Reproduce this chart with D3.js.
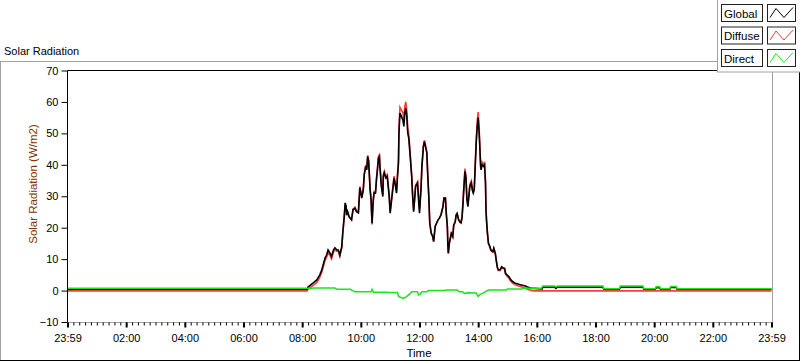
<!DOCTYPE html>
<html><head><meta charset="utf-8">
<script src="https://cdn.jsdelivr.net/npm/d3@7/dist/d3.min.js"></script>
<style>
body{margin:0;background:#fff}
svg{display:block}
text{font-family:"Liberation Sans",Arial,sans-serif;fill:#000}
</style>
</head><body>
<svg id="c" width="800" height="361"></svg>
<script>
// ---------- DATA ----------
const seriesNames = ["Global", "Diffuse", "Direct"];
const chartTitle = "Solar Radiation";
const yTitle = "Solar Radiation (W/m2)";
const xTitle = "Time";
const yTickValues = [-10, 0, 10, 20, 30, 40, 50, 60, 70];
const xTickLabels = ["23:59","02:00","04:00","06:00","08:00","10:00","12:00","14:00","16:00","18:00","20:00","22:00","23:59"];

const sampleTimes = [
"00:00","08:09","08:11","08:21","08:29","08:35","08:39","08:42","08:46","08:49",
"08:52","08:56","08:59","09:03","09:06","09:10","09:13","09:16","09:20","09:22",
"09:25","09:27","09:29","09:30","09:32","09:35","09:40","09:43","09:47","09:50",
"09:54","09:56","09:57","10:01","10:04","10:06","10:09","10:11","10:13","10:15",
"10:18","10:20","10:21","10:22","10:24","10:26","10:29","10:31","10:33","10:35",
"10:37","10:38","10:40","10:41","10:44","10:45","10:47","10:50","10:53","10:55",
"10:57","10:59","11:02","11:05","11:07","11:10","11:12","11:14","11:16","11:17",
"11:19","11:22","11:25","11:27","11:29","11:31","11:33","11:35","11:37","11:40",
"11:43","11:45","11:47","11:49","11:51","11:55","11:57","11:59","12:02","12:04",
"12:07","12:09","12:12","12:14","12:16","12:18","12:20","12:23","12:26","12:28",
"12:31","12:34","12:37","12:40","12:43","12:47","12:49","12:52","12:54","12:56",
"12:57","12:58","13:00","13:04","13:07","13:09","13:12","13:14","13:16","13:19",
"13:21","13:24","13:26","13:28","13:30","13:32","13:34","13:36","13:38","13:40",
"13:42","13:45","13:47","13:49","13:51","13:53","13:55","13:57","13:59","14:01",
"14:02","14:04","14:05","14:07","14:10","14:12","14:14","14:15","14:16","14:18",
"14:20","14:23","14:25","14:29","14:31","14:34","14:36","14:38","14:40","14:44",
"14:47","14:50","14:53","14:55","14:58","15:02","15:06","15:10","15:15","15:20",
"15:27","15:34","15:40","15:47","15:54","16:10","16:11","16:35","16:38","16:41",
"18:14","18:16","18:48","18:50","19:36","19:38","20:01","20:03","20:10","20:12",
"20:31","20:33","20:44","20:46","23:59"];

const globalValues = [
0.4,0.4,1.1,2.4,3.4,5.0,6.5,8.2,10.4,11.3,
12.9,11.9,10.8,12.9,13.6,12.9,12.9,11.3,14.0,18.3,
23.5,27.9,26.7,24.1,25.1,23.5,22.5,25.7,26.2,25.1,
24.7,29.9,32.7,29.4,32.0,36.8,39.5,38.4,42.6,41.0,
32.0,28.9,24.7,21.4,27.8,31.0,31.0,35.2,38.4,42.1,
42.6,39.5,35.2,33.1,29.9,36.3,37.4,35.8,36.3,33.1,
29.9,24.6,28.9,33.1,35.8,33.1,31.0,36.3,40.5,50.1,
56.5,55.4,54.3,52.2,56.5,58.0,55.4,50.1,48.5,42.6,
36.3,29.9,25.1,28.9,33.1,34.2,28.9,24.6,32.0,39.5,
45.8,47.4,45.3,43.7,36.3,29.9,21.4,18.2,17.2,15.6,
20.4,21.5,22.5,23.1,24.1,26.7,29.4,29.4,24.1,20.4,
14.5,11.9,15.1,18.2,17.2,20.9,21.9,24.1,24.6,22.5,
21.9,21.5,23.1,27.8,33.1,37.9,35.8,28.9,26.7,29.9,
33.1,34.2,32.0,31.0,32.0,39.5,46.9,52.2,55.0,50.1,
46.9,39.5,38.4,40.0,39.5,40.0,34.2,25.7,22.5,18.2,
15.1,14.0,12.9,12.4,13.5,11.9,9.7,7.6,6.6,6.6,
7.6,7.2,7.1,5.5,5.0,4.4,3.4,2.8,2.3,2.1,
1.8,1.5,1.1,0.7,0.7,0.5,1.1,1.1,0.7,1.1,
1.1,0.4,0.4,1.1,1.1,0.4,0.4,0.9,0.9,0.4,
0.4,1.0,1.0,0.4,0.4];

const diffuseValues = [
-0.1,-0.1,0.4,1.6,2.6,4.2,5.8,7.4,9.7,10.6,
12.1,11.2,10.1,12.2,13.0,12.5,12.5,10.9,13.6,17.9,
23.1,27.6,26.5,23.9,25.0,23.4,22.5,25.9,26.5,25.4,
25.0,30.3,33.1,29.8,32.4,37.2,39.9,38.8,43.0,41.4,
32.3,29.0,24.6,21.0,28.1,31.5,31.6,35.8,39.0,42.7,
43.2,40.1,35.8,33.7,30.5,36.9,38.0,36.4,36.9,33.7,
30.5,25.2,29.5,33.7,36.4,33.7,31.6,37.0,41.8,51.8,
58.3,57.4,56.6,54.4,58.6,60.0,57.1,51.6,49.9,43.6,
36.8,30.3,25.5,29.3,33.5,34.6,30.3,25.8,32.8,40.0,
46.2,47.8,45.7,44.1,36.6,30.1,21.5,18.2,17.2,15.6,
20.4,21.5,22.5,23.1,24.1,26.7,29.4,29.4,23.9,20.2,
14.3,11.7,14.9,18.0,17.0,20.7,21.7,23.9,24.4,22.6,
22.2,21.9,23.5,28.3,33.9,38.8,36.6,29.6,27.4,30.6,
33.8,34.9,32.7,31.7,32.8,40.4,47.9,53.6,56.8,51.4,
47.9,40.4,39.3,40.9,40.2,40.6,34.6,26.0,22.7,18.2,
14.9,13.8,12.7,12.2,13.3,11.7,9.5,7.4,6.4,6.4,
7.4,7.0,6.9,5.2,4.6,3.9,2.9,2.3,1.8,1.5,
1.2,0.8,0.4,0.0,-0.1,-0.1,-0.1,-0.1,-0.1,-0.1,
-0.1,-0.1,-0.1,-0.1,-0.1,-0.1,-0.1,-0.1,-0.1,-0.1,
-0.1,-0.1,-0.1,-0.1,-0.1];

const directTimes = [
"00:00","08:19","08:22","09:06","09:10","09:38","09:42","09:47","10:20","10:22",
"10:25","10:50","11:00","11:14","11:16","11:22","11:27","11:31","11:37","11:43",
"11:55","11:57","12:00","12:04","12:14","12:18","12:50","12:54","13:16","13:20",
"13:27","13:31","13:37","13:55","13:59","14:03","14:08","14:18","14:22","14:57",
"14:59","15:28","15:32","16:08","16:11","16:35","16:38","16:41","18:14","18:16",
"18:48","18:50","19:36","19:38","20:01","20:03","20:10","20:12","20:31","20:33",
"20:44","20:46","23:59"];
const directValues = [
0.7,0.7,0.8,0.8,0.4,0.4,0.0,-0.35,-0.35,0.4,
-0.55,-0.5,-0.6,-0.6,-1.9,-2.3,-2.4,-2.1,-1.4,-0.35,
-0.35,-1.4,-1.2,-0.4,-0.35,0.0,0.0,0.2,0.2,-0.35,
-0.35,-0.9,-0.7,-0.8,-1.9,-1.2,-0.9,0.0,0.2,0.2,
0.5,0.5,0.7,0.7,1.45,1.45,1.2,1.45,1.45,0.6,
0.6,1.45,1.45,0.6,0.6,1.2,1.2,0.6,0.6,1.3,
1.3,0.6,0.6];

// ---------- STYLE ----------
const colGlobal = "#000000", colDiffuse = "#ff3b3b", colDirect = "#19e619";
const P = {l: 67.5, r: 771.5, t: 70.5, b: 322.5};

const svg = d3.select("#c");
const toH = s => { const [h, m] = s.split(":").map(Number); return h + m / 60; };

const x = d3.scaleLinear().domain([-1/60, 24 - 1/60]).range([P.l, P.r]);
const y = d3.scaleLinear().domain([-10, 70]).range([322, 70.5]);

// outer panel frame
svg.append("line").attr("x1",0).attr("x2",718).attr("y1",61.5).attr("y2",61.5).attr("stroke","#a0a0a0");
svg.append("line").attr("x1",0.5).attr("x2",0.5).attr("y1",61).attr("y2",361).attr("stroke","#a0a0a0");
svg.append("line").attr("x1",0).attr("x2",800).attr("y1",360.5).attr("y2",360.5).attr("stroke","#000");
svg.append("line").attr("x1",799.5).attr("x2",799.5).attr("y1",72).attr("y2",361).attr("stroke","#000");

// title
svg.append("text").attr("x",4).attr("y",55).style("font-size","11px").text(chartTitle);

// plot area
svg.append("rect").attr("x",P.l).attr("y",P.t).attr("width",772.5-P.l).attr("height",P.b-P.t).attr("fill","#fff");
svg.append("defs").append("clipPath").attr("id","clip").append("rect")
  .attr("x",P.l+0.5).attr("y",P.t+0.5).attr("width",772-P.l-0.5).attr("height",P.b-P.t-0.5);

const line = d3.line().x(d => x(d[0])).y(d => y(d[1]));
const gData = sampleTimes.map((t,i) => [toH(t), globalValues[i]]);
const dData = sampleTimes.map((t,i) => [toH(t), diffuseValues[i]]);
const rData = directTimes.map((t,i) => [toH(t), directValues[i]]);

const gl = svg.append("g").attr("clip-path","url(#clip)");
gl.append("path").datum(dData).attr("d",line).attr("fill","none").attr("stroke",colDiffuse).attr("stroke-width",1.6);
gl.append("path").datum(gData).attr("d",line).attr("fill","none").attr("stroke",colGlobal).attr("stroke-width",1.6);
gl.append("path").datum(rData).attr("d",line).attr("fill","none").attr("stroke",colDirect).attr("stroke-width",1.5);

// plot borders
svg.append("line").attr("x1",P.l).attr("x2",772.5).attr("y1",P.t).attr("y2",P.t).attr("stroke","#000");
svg.append("line").attr("x1",P.l).attr("x2",P.l).attr("y1",P.t).attr("y2",P.b).attr("stroke","#000");
svg.append("line").attr("x1",772.5).attr("x2",772.5).attr("y1",P.t).attr("y2",P.b).attr("stroke","#a0a0a0");
svg.append("line").attr("x1",P.l).attr("x2",773).attr("y1",P.b).attr("y2",P.b).attr("stroke","#a0a0a0");

// y axis
const yAxis = svg.append("g").attr("transform",`translate(${P.l},0)`)
  .call(d3.axisLeft(y).tickValues(yTickValues).tickSize(6).tickPadding(3).tickFormat(d3.format("d")));
yAxis.select(".domain").remove();
yAxis.selectAll("line").attr("stroke","#000");
yAxis.selectAll("text").style("font-size","11px").style("font-family","Liberation Sans, Arial, sans-serif").attr("fill","#000");

// x axis: minor + major
const majorTicks = d3.range(0, 13).map(k => -1/60 + 2*k);
const minorTicks = d3.range(0, 121).map(k => -1/60 + 0.2*k);
const xMinor = svg.append("g").attr("transform",`translate(0,${P.b})`)
  .call(d3.axisBottom(x).tickValues(minorTicks).tickSize(3).tickFormat(""));
xMinor.select(".domain").remove();
xMinor.selectAll("line").attr("stroke","#000");
const xMajor = svg.append("g").attr("transform",`translate(0,${P.b})`)
  .call(d3.axisBottom(x).tickValues(majorTicks).tickSize(5).tickFormat((d,i) => xTickLabels[i]));
xMajor.select(".domain").remove();
xMajor.selectAll("line").attr("stroke","#000").attr("stroke-width",2);
xMajor.selectAll("text").attr("y",19.5).attr("dy",null).style("font-size","11px")
  .style("font-family","Liberation Sans, Arial, sans-serif").attr("fill","#000");

// axis titles
svg.append("text").attr("x",419).attr("y",357).attr("text-anchor","middle").style("font-size","11.5px").text(xTitle);
svg.append("text").attr("transform","translate(36.5,184) rotate(-90)").attr("text-anchor","middle")
  .style("font-size","11.5px").style("fill","#803300").text(yTitle);

// legend
const lg = svg.append("g");
lg.append("rect").attr("x",717.5).attr("y",-1).attr("width",84).attr("height",73).attr("fill","#fff").attr("stroke","#a0a0a0");
const legendColors = [colGlobal, colDiffuse, colDirect];
seriesNames.forEach((name, i) => {
  const y0 = 4.5 + i * 22.5;
  lg.append("rect").attr("x",721.5).attr("y",y0).attr("width",41).attr("height",17).attr("fill","#fff").attr("stroke","#222");
  lg.append("text").attr("x",724).attr("y",y0 + 13).style("font-size","11.5px").text(name);
  lg.append("rect").attr("x",767.5).attr("y",y0).attr("width",28).attr("height",17).attr("fill","#fff").attr("stroke","#222");
  lg.append("polyline").attr("points",`${770},${y0+13} ${776},${y0+4} ${784},${y0+13} ${793},${y0+3}`)
    .attr("fill","none").attr("stroke",legendColors[i]).attr("stroke-width",1);
});
</script>
</body></html>
